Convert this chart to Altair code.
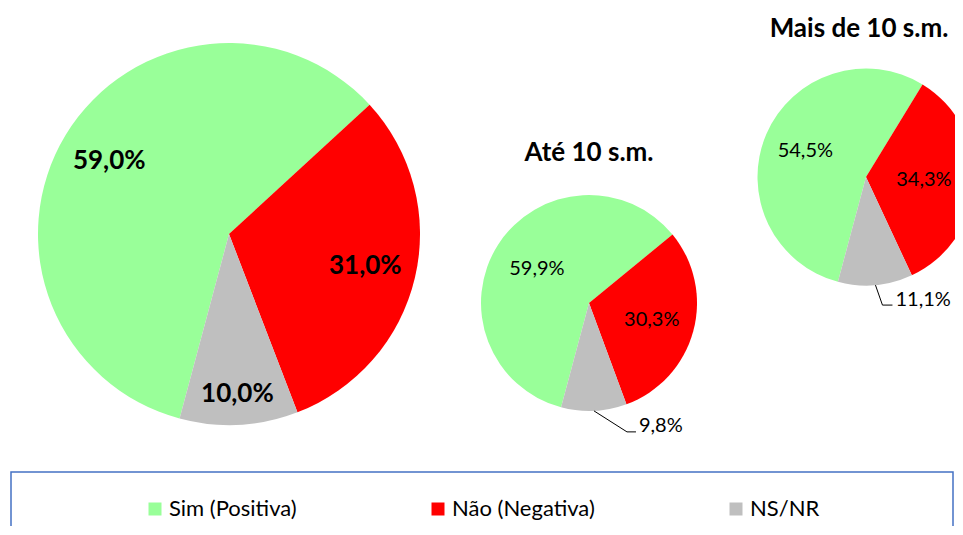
import math
import altair as alt
import pandas as pd

# ---- data ----
categories = ["Sim (Positiva)", "Não (Negativa)", "NS/NR"]
total = [59.0, 31.0, 10.0]
ate_10 = [59.9, 30.3, 9.8]
mais_10 = [54.5, 34.3, 11.1]
pie_titles = ["", "Até 10 s.m.", "Mais de 10 s.m."]
colors = ["#99FF99", "#FF0000", "#BFBFBF"]

# ---- layout ----
W, H = 947, 518
START = 195.0  # first-slice angle in degrees (clockwise from north)
FONT = "Lato"

theta_scale = alt.Scale(range=[math.radians(START), math.radians(START + 360)])
color_scale = alt.Scale(domain=categories, range=colors)

legend = alt.Legend(
    title=None, orient="none", direction="horizontal", legendX=136, legendY=490,
    symbolType="square", symbolSize=169, symbolStrokeWidth=0, symbolOpacity=1,
    labelFont=FONT, labelFontSize=22, labelColor="#000000", labelOffset=3,
    columnPadding=130, labelLimit=400,
)


def fmt(v):
    return f"{v:.1f}".replace(".", ",") + "%"


def frame(values, shown):
    return pd.DataFrame({
        "cat": categories,
        "val": values,
        "ord": list(range(len(values))),
        "lab": [fmt(v) if i in shown else "" for i, v in enumerate(values)],
    })


def pie(values, cx, cy, r, inner, big=False, leader=None):
    layers = []
    theta = alt.Theta("val:Q", stack="normalize", scale=theta_scale)
    order = alt.Order("ord:Q", sort="ascending")
    df = frame(values, [0, 1, 2])
    layers.append(
        alt.Chart(df).mark_arc(radius=r, clip=True, strokeWidth=0).encode(
            x=alt.value(cx), y=alt.value(cy), theta=theta, order=order,
            color=alt.Color("cat:N", scale=color_scale, sort=categories, legend=legend),
        )
    )
    fs = 26 if big else 20
    fw = "bold" if big else "normal"
    for (shown, rad) in inner:
        layers.append(
            alt.Chart(frame(values, shown)).mark_text(
                radius=rad, font=FONT, fontSize=fs, fontWeight=fw, color="black",
                align="center", baseline="middle",
            ).encode(
                x=alt.value(cx), y=alt.value(cy), theta=theta, order=order,
                detail="cat:N", text="lab:N",
            )
        )
    if leader is not None:
        idx, (ex, ey), hlen, lift = leader
        tot = sum(values)
        frac = (sum(values[:idx]) + values[idx] / 2) / tot
        a = math.radians(START + 360 * frac)
        sx, sy = cx + r * math.sin(a), cy - r * math.cos(a)
        bx, by = sx + ex, sy + ey
        one = pd.DataFrame({"k": [0]})
        layers.append(
            alt.Chart(one).mark_rule(color="black", strokeWidth=1).encode(
                x=alt.value(sx), y=alt.value(sy), x2=alt.value(bx), y2=alt.value(by)))
        layers.append(
            alt.Chart(one).mark_rule(color="black", strokeWidth=1).encode(
                x=alt.value(bx), y=alt.value(by), x2=alt.value(bx + hlen), y2=alt.value(by)))
        layers.append(
            alt.Chart(one).mark_text(
                font=FONT, fontSize=fs, color="black", align="left", baseline="middle",
            ).encode(x=alt.value(bx + hlen + 3), y=alt.value(by - lift),
                     text=alt.value(fmt(values[idx]))))
    return layers


layers = []
layers += pie(total, 221, 226, 191, [([0, 1], 140), ([2], 160)], big=True)
layers += pie(ate_10, 581, 295, 108, [([0], 62), ([1], 65)], leader=(2, (33, 21), 9, 6))
layers += pie(mais_10, 858, 169, 108.5, [([0], 66), ([1], 58)], leader=(2, (7, 20), 10, 5))

title_pos = [None, (581, 145), (851, 21)]
for t, pos in zip(pie_titles, title_pos):
    if pos is None:
        continue
    layers.append(
        alt.Chart(pd.DataFrame({"t": [t]})).mark_text(
            font=FONT, fontSize=26, fontWeight="bold", color="black",
            align="center", baseline="middle",
        ).encode(x=alt.value(pos[0]), y=alt.value(pos[1]), text="t:N")
    )

# legend frame
layers.append(
    alt.Chart(pd.DataFrame({"k": [0]})).mark_rect(
        fillOpacity=0, stroke="#4472C4", strokeWidth=1.5, clip=True,
    ).encode(x=alt.value(3), x2=alt.value(945), y=alt.value(464), y2=alt.value(H + 20))
)

chart = alt.layer(*layers).properties(
    width=W, height=H, padding=0,
    autosize=alt.AutoSizeParams(type="none"),
).configure_view(stroke=None)

chart.save("out.html", embed_options={"renderer": "svg", "actions": False})
